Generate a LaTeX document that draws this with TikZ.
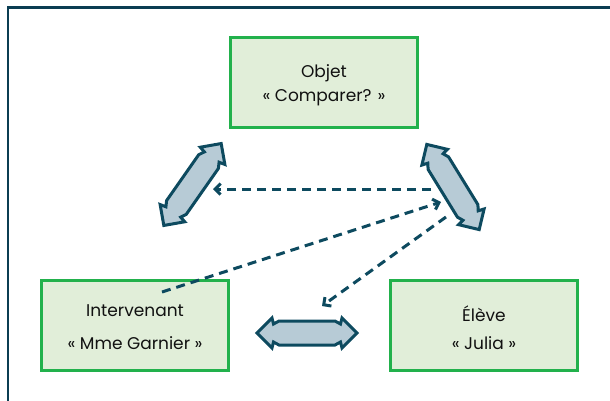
\documentclass[tikz,border=0pt]{standalone}
\usepackage{fontspec}
\setmainfont{Poppins}
\usetikzlibrary{arrows.meta}
\definecolor{boxgreen}{HTML}{22B14C}
\definecolor{boxfill}{HTML}{E1EED9}
\definecolor{arrfill}{HTML}{B7CBD6}
\definecolor{dark}{HTML}{0D4A5F}
\definecolor{frame}{HTML}{0B3D52}
\definecolor{txt}{HTML}{111111}
\tikzset{
  box/.style={draw=boxgreen, fill=boxfill, line width=3pt, minimum width=187pt, minimum height=90pt, inner sep=0pt},
  lbl/.style={anchor=base, text=txt, font=\fontsize{17}{20}\selectfont, inner sep=0pt},
  fat/.style={draw=dark, fill=arrfill, line width=3pt, line join=miter},
  dashline/.style={draw=dark, line width=3pt, dash pattern=on 9pt off 6pt,
    -{Straight Barb[length=5.5pt,width=11pt,line width=3pt]}}
}
\newcommand{\fatarrow}[3]{%
  \begin{scope}[shift={(#1,#2)}, rotate=#3]
    \path[fat] (-50,0) -- (-35,-15) -- (-33.5,-9) -- (-28,-12) -- (28,-12) -- (33.5,-9) -- (35,-15) -- (50,0)
      -- (35,15) -- (33.5,9) -- (28,12) -- (-28,12) -- (-33.5,9) -- (-35,15) -- cycle;
  \end{scope}}
\begin{document}
\begin{tikzpicture}[x=1pt,y=-1pt]
\useasboundingbox (0,0) rectangle (610,400);
\clip (0,0) rectangle (610,400);
\draw[frame, line width=2.5pt] (8,7.5) rectangle (640,430);

\node[box] (objet) at (324,82.5) {};
\node[box] (interv) at (135,325.5) {};
\node[box] (eleve) at (484,325.5) {};

\node[lbl] (objet1) at (324,77.5) {Objet};
\node[lbl] (objet2) at (324,101.5) {« Comparer? »};
\node[lbl] (interv1) at (135,316.5) {Intervenant};
\node[lbl] (interv2) at (135,349.5) {« Mme Garnier »};
\node[lbl] (eleve1) at (484,321) {Élève};
\node[lbl] (eleve2) at (484,349.5) {« Julia »};

\fatarrow{192.5}{184.5}{55}
\fatarrow{453}{187}{-58.4}
\fatarrow{307}{333}{0}

\coordinate (h1) at (431,189);
\coordinate (h2) at (213,189);
\coordinate (d1) at (162,292);
\coordinate (d2) at (441,202);
\coordinate (e1) at (446,217);
\coordinate (e2) at (322,306);

\draw[dashline] (h1) -- (h2);
\draw[dashline] (d1) -- (d2);
\draw[dashline] (e1) -- (e2);
\end{tikzpicture}
\end{document}
